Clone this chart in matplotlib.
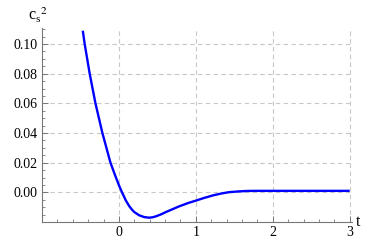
import numpy as np
import matplotlib.pyplot as plt
from matplotlib.ticker import MultipleLocator

# values
t_vals = [-0.47, -0.445, -0.38, -0.305, -0.215, -0.11, -0.05, 0.0, 0.04, 0.09,
          0.134, 0.17, 0.2, 0.264, 0.33, 0.394, 0.44, 0.48, 0.55, 0.61, 0.7, 0.78,
          0.9, 1.0, 1.1, 1.22, 1.33, 1.43, 1.55, 1.65, 1.75, 2.0, 2.5, 3.0]
cs2_vals = [0.109, 0.100, 0.080, 0.060, 0.040, 0.020, 0.0115, 0.0048, 0.0, -0.0055,
            -0.0093, -0.0117, -0.0133, -0.0155, -0.0167, -0.0171, -0.0168, -0.0162, -0.0148,
            -0.0133, -0.0113, -0.0095, -0.0072, -0.0056, -0.0039, -0.0021, -0.0008, 0.0001,
            0.0006, 0.0009, 0.001, 0.001, 0.001, 0.001]

x_ticks = [0, 1, 2, 3]
y_ticks = [0.00, 0.02, 0.04, 0.06, 0.08, 0.10]
y_labels = ["0.00", "0.02", "0.04", "0.06", "0.08", "0.10"]

plt.rcParams['font.family'] = 'serif'
plt.rcParams['font.serif'] = ['Liberation Serif', 'DejaVu Serif']
plt.rcParams['mathtext.fontset'] = 'stix'

fig = plt.figure(figsize=(3.69, 2.41), dpi=100)
ax = fig.add_axes([42 / 369, 19 / 241, 310 / 369, 194 / 241])

ax.plot(t_vals, cs2_vals, color='#0000ff', linewidth=1.7, solid_capstyle='butt',
        solid_joinstyle='round')

ax.set_xlim(-1.0, 3.03)
ax.set_ylim(-0.02, 0.1108)

ax.set_xticks(x_ticks)
ax.set_yticks(y_ticks)
ax.set_yticklabels(y_labels)
ax.xaxis.set_minor_locator(MultipleLocator(0.2))
ax.yaxis.set_minor_locator(MultipleLocator(0.005))

ax.grid(True, which='major', linestyle=(0, (4, 3)), color='#c8c8c8', linewidth=0.8)

for side in ['top', 'right']:
    ax.spines[side].set_visible(False)
for side in ['left', 'bottom']:
    ax.spines[side].set_color('#777777')
    ax.spines[side].set_linewidth(0.8)

ax.tick_params(which='major', direction='in', length=4, width=0.7, color='#777777',
               labelsize=10, pad=3)
ax.tick_params(which='minor', direction='in', length=2, width=0.6, color='#777777')

ax.text(1.012, -0.02, 't', transform=ax.get_yaxis_transform(), fontsize=11.5,
        ha='left', va='center')
ax.text(-0.045, 1.02, r'$\mathregular{c_s}^{2}$', transform=ax.transAxes, fontsize=11.5,
        ha='left', va='bottom')

fig.savefig('out.png', dpi=100)
